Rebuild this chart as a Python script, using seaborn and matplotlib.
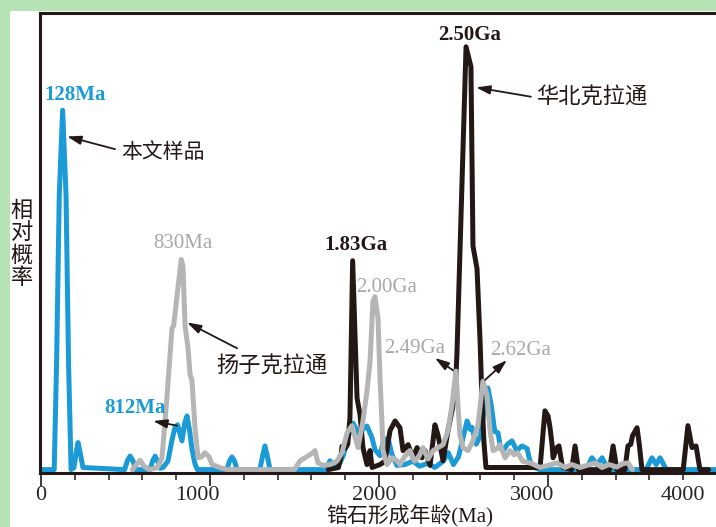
import matplotlib
matplotlib.use("Agg")
import matplotlib.pyplot as plt
import matplotlib.transforms as mtransforms
from matplotlib.patches import Rectangle
from matplotlib.ticker import MultipleLocator
import seaborn as sns

# ─── Datos: edad (Ma) y probabilidad relativa de cada curva ─────────────────
# 本文样品 (muestra de este trabajo)
blue_age = [0, 78, 92, 108, 128, 148, 163, 178, 195, 208, 219, 232, 248,
            495, 510, 527, 545, 560, 645, 660, 675, 690, 705, 722, 751, 775,
            793, 808, 834, 850, 864, 880, 893, 910, 925, 1100, 1115, 1130,
            1145, 1160, 1295, 1310, 1325, 1340, 1355, 1690, 1710, 1740, 1769,
            1790, 1811, 1846, 1876, 1899, 1929, 1959, 1976, 2006, 2024, 2053,
            2077, 2106, 2154, 2200, 2240, 2290, 2330, 2380, 2410, 2440, 2470,
            2500, 2521, 2540, 2550, 2575, 2600, 2630, 2645, 2665, 2685, 2704,
            2720, 2734, 2760, 2787, 2815, 2846, 2876, 2893, 2920, 2950, 3225,
            3260, 3290, 3320, 3355, 3580, 3615, 3640, 3663, 3700, 4000]
blue_prob = [0, 0, 0.25, 0.65, 0.85, 0.65, 0.25, 0, 0.005, 0.04, 0.064, 0.04,
             0.005, 0, 0.02, 0.032, 0.02, 0, 0, 0.02, 0.032, 0.02, 0.003,
             0.005, 0.02, 0.07, 0.1, 0.106, 0.068, 0.11, 0.127, 0.09, 0.05,
             0.015, 0, 0, 0.02, 0.03, 0.02, 0, 0, 0.03, 0.056, 0.03, 0, 0,
             0.021, 0.008, 0.016, 0.035, 0.07, 0.11, 0.087, 0.094, 0.103,
             0.075, 0.047, 0.033, 0.064, 0.075, 0.035, 0.01, 0.012, 0.02,
             0.008, 0.015, 0.005, 0.02, 0.04, 0.012, 0.03, 0.08, 0.115, 0.095,
             0.1, 0.06, 0.08, 0.16, 0.193, 0.15, 0.09, 0.087, 0.05, 0.045,
             0.06, 0.068, 0.045, 0.056, 0.05, 0.02, 0.005, 0, 0, 0.028, 0.012,
             0.028, 0, 0, 0.028, 0.012, 0.028, 0, 0]

# 华北克拉通
black_age = [1700, 1760, 1775, 1781, 1800, 1815, 1828, 1844, 1870, 1888,
             1905, 1929, 1947, 1959, 2006, 2036, 2065, 2095, 2124, 2142, 2172,
             2201, 2225, 2254, 2272, 2302, 2331, 2349, 2379, 2408, 2432, 2450,
             2461, 2479, 2515, 2544, 2556, 2580, 2598, 2609, 2621, 2633, 2953,
             2982, 3000, 3012, 3024, 3030, 3053, 3065, 3083, 3089, 3140, 3160,
             3180, 3365, 3385, 3408, 3455, 3473, 3490, 3500, 3527, 3540, 3556,
             3800, 3828, 3852, 3876, 3899, 3950]
black_prob = [0, 0.005, 0.03, 0.055, 0.05, 0.06, 0.122, 0.494, 0.169, 0.129,
              0.052, 0.012, 0.045, 0.005, 0.012, 0.02, 0.092, 0.115, 0.099,
              0.045, 0.059, 0.028, 0.052, 0.028, 0.045, 0.01, 0.106, 0.082,
              0.021, 0.092, 0.139, 0.18, 0.271, 0.515, 1.0, 0.953, 0.529, 0.475,
              0.304, 0.169, 0.064, 0.005, 0.005, 0.139, 0.127, 0.099, 0.059,
              0.028, 0.052, 0.056, 0.012, 0.005, 0, 0.056, 0, 0, 0.056, 0, 0,
              0.056, 0.06, 0.08, 0.099, 0.06, 0, 0, 0.104, 0.052, 0.056, 0, 0]

# 扬子克拉通
gray_age = [540, 565, 586, 610, 640, 690, 716, 746, 775, 785, 805, 830, 840,
            852, 870, 882, 893, 911, 929, 950, 970, 995, 1012, 1059, 1100,
            1500, 1533, 1570, 1609, 1621, 1639, 1669, 1710, 1751, 1781, 1811,
            1840, 1876, 1905, 1929, 1947, 1964, 1976, 1994, 2006, 2018, 2024,
            2047, 2077, 2106, 2124, 2150, 2183, 2210, 2235, 2260, 2290, 2320,
            2349, 2379, 2408, 2432, 2455, 2467, 2479, 2497, 2527, 2556, 2586,
            2615, 2639, 2657, 2675, 2700, 2716, 2746, 2775, 2800, 2820, 2850,
            2900, 2953, 3000, 3053, 3100, 3140, 3189, 3230, 3280, 3320, 3360,
            3408, 3440, 3473, 3500]
gray_prob = [0, 0.012, 0.022, 0.008, 0, 0.005, 0.028, 0.176, 0.334, 0.34,
             0.412, 0.497, 0.482, 0.341, 0.287, 0.224, 0.212, 0.099, 0.028,
             0.03, 0.04, 0.03, 0.012, 0.005, 0, 0, 0.021, 0.03, 0.04, 0.045,
             0.016, 0.01, 0.012, 0.02, 0.04, 0.087, 0.104, 0.052, 0.115, 0.186,
             0.256, 0.398, 0.409, 0.358, 0.216, 0.106, 0.045, 0.012, 0.028,
             0.021, 0.012, 0.03, 0.045, 0.02, 0.03, 0.052, 0.025, 0.045, 0.052,
             0.059, 0.092, 0.153, 0.233, 0.153, 0.082, 0.052, 0.045, 0.068,
             0.106, 0.209, 0.176, 0.092, 0.045, 0.05, 0.059, 0.028, 0.045,
             0.035, 0.04, 0.02, 0.015, 0.005, 0.01, 0.016, 0.005, 0.012, 0.005,
             0.01, 0.016, 0.005, 0.012, 0.006, 0.014, 0.016, 0]

xticks = [0, 1000, 2000, 3000, 4000]
xtick_labels = ["0", "1000", "2000", "3000", "4000"]

# ─── Colores ─────────────────────────────────────────────────────────────────
c_blue  = "#1a9bd7"
c_black = "#231815"
c_gray  = "#b5b5b5"
c_glab  = "#a8a8a8"

sns.set_style("white")
plt.rcParams["font.family"] = ["Liberation Serif", "Noto Sans CJK SC"]
cjk = ["Noto Sans CJK SC", "DejaVu Sans"]

fig = plt.figure(figsize=(7.16, 5.27), dpi=100, facecolor="#b5e3b5")
fig.patches.append(Rectangle((10 / 716, 0), 1, 1 - 11 / 527,
                             transform=fig.transFigure, facecolor="white",
                             edgecolor="none", zorder=-1))
ax = fig.add_axes([40 / 716, 54 / 527, 677 / 716, 460 / 527])

for age, prob, color in [(blue_age, blue_prob, c_blue),
                         (black_age, black_prob, c_black),
                         (gray_age, gray_prob, c_gray)]:
    sns.lineplot(x=age, y=prob, color=color, lw=3.6, ax=ax, sort=False,
                 estimator=None, solid_joinstyle="round",
                 solid_capstyle="round")

ax.set_xlim(-6, 4000)
ax.set_ylim(-0.008, 1.08)

for side in ["top", "left", "bottom"]:
    ax.spines[side].set_linewidth(2.2)
    ax.spines[side].set_color(c_black)
ax.spines["right"].set_visible(False)

ax.set_xticks(xticks)
ax.set_xticklabels(xtick_labels)
ax.xaxis.set_minor_locator(MultipleLocator(200))
ax.tick_params(axis="x", which="major", direction="out", length=9, width=1.2,
               pad=0.5, labelsize=16, bottom=True, color=c_black)
ax.tick_params(axis="x", which="minor", direction="out", length=5, width=1.1,
               bottom=True, color=c_black)
ax.set_yticks([])
ax.set_xlabel("")
ax.set_ylabel("")

# las etiquetas del original están algo desplazadas a la izquierda
shift_px = [0, -13, -5, -16, -34]
for lab, dx in zip(ax.get_xticklabels(), shift_px):
    lab.set_transform(lab.get_transform() +
                      mtransforms.ScaledTranslation(dx / 100, 0, fig.dpi_scale_trans))

# ─── Títulos de ejes ─────────────────────────────────────────────────────────
fig.text(410 / 716, 0, "锆石形成年龄(Ma)", ha="center", va="bottom",
         fontsize=15, color=c_black)
fig.text(22 / 716, 1 - 244 / 527, "相\n对\n概\n率", ha="center", va="center",
         fontsize=16, linespacing=0.95, family=cjk, color=c_black)

# ─── Etiquetas de picos ──────────────────────────────────────────────────────
peak_labels = [
    ("128Ma", 201, 0.887, c_blue, "bold"),
    ("812Ma", 556, 0.146, c_blue, "bold"),
    ("830Ma", 840, 0.534, c_glab, "normal"),
    ("1.83Ga", 1864, 0.532, c_black, "bold"),
    ("2.00Ga", 2047, 0.431, c_glab, "normal"),
    ("2.50Ga", 2538, 1.028, c_black, "bold"),
    ("2.49Ga", 2213, 0.287, c_glab, "normal"),
    ("2.62Ga", 2840, 0.282, c_glab, "normal"),
]
for txt, x, y, col, w in peak_labels:
    ax.text(x, y, txt, ha="center", va="center", fontsize=15, color=col,
            fontweight=w)

group_labels = [
    ("本文样品", 722, 0.751, 15),
    ("扬子克拉通", 1367, 0.245, 16),
    ("华北克拉通", 3260, 0.882, 16),
]
for txt, x, y, fs in group_labels:
    ax.text(x, y, txt, ha="center", va="center", fontsize=fs, family=cjk,
            color=c_black)

# flechas: (cola, punta)
arrows = [
    ((438, 0.758), (154, 0.788)),
    ((1160, 0.287), (864, 0.348)),
    ((2899, 0.882), (2574, 0.904)),
    ((805, 0.104), (663, 0.115)),
    ((2438, 0.235), (2331, 0.264)),
    ((2627, 0.212), (2757, 0.259)),
]
for tail, head in arrows:
    ax.annotate("", xy=head, xytext=tail,
                arrowprops=dict(arrowstyle="-|>,head_length=0.7,head_width=0.22",
                                color=c_black, lw=1.3, mutation_scale=12,
                                shrinkA=0, shrinkB=0))

plt.savefig("out.png", dpi=100, facecolor=fig.get_facecolor())
